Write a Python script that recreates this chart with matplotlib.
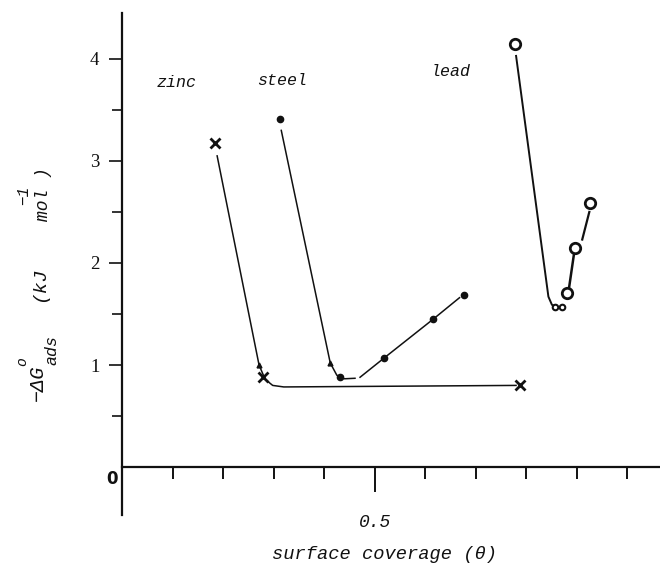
import matplotlib
matplotlib.use("Agg")
import matplotlib.pyplot as plt
from matplotlib.ticker import FixedLocator, FixedFormatter, NullFormatter

# ---------------- data ----------------
# zinc (crosses)
zinc_x = [0.184, 0.279, 0.788]
zinc_y = [3.18, 0.88, 0.80]
zinc_small_x = [0.271]
zinc_small_y = [1.00]
zinc_line_x = [0.188, 0.271, 0.283, 0.298, 0.320, 0.780]
zinc_line_y = [3.05, 1.00, 0.86, 0.80, 0.785, 0.80]

# steel (filled dots)
steel_x = [0.313, 0.432, 0.519, 0.616, 0.677]
steel_y = [3.41, 0.88, 1.07, 1.45, 1.69]
steel_small_x = [0.412]
steel_small_y = [1.02]
steel_line1_x = [0.315, 0.412, 0.425, 0.440, 0.461]
steel_line1_y = [3.30, 1.02, 0.90, 0.865, 0.87]
steel_line2_x = [0.471, 0.519, 0.616, 0.668]
steel_line2_y = [0.88, 1.07, 1.45, 1.66]

# lead (open circles)
lead_x = [0.778, 0.881, 0.897, 0.927]
lead_y = [4.15, 1.71, 2.15, 2.59]
lead_small_x = [0.857, 0.871]
lead_small_y = [1.57, 1.57]
lead_line1_x = [0.780, 0.844, 0.851, 0.860]
lead_line1_y = [4.03, 1.67, 1.59, 1.57]
lead_line2_x = [0.885, 0.895]
lead_line2_y = [1.76, 2.10]
lead_line3_x = [0.911, 0.925]
lead_line3_y = [2.23, 2.50]

series_labels = ["zinc", "steel", "lead"]
label_x = [0.107, 0.317, 0.650]
label_y = [3.77, 3.79, 3.88]

y_major = [1, 2, 3, 4]
y_major_labels = ["1", "2", "3", "4"]
y_minor = [0.5, 1.5, 2.5, 3.5]
x_major = [0.5]
x_major_labels = ["0.5"]
x_minor = [0.1, 0.2, 0.3, 0.4, 0.6, 0.7, 0.8, 0.9, 1.0]

xlabel = "surface coverage (\u03b8)"

# ---------------- figure ----------------
W, H = 660, 577
fig = plt.figure(figsize=(W / 100, H / 100), dpi=100)
ax = fig.add_axes([0, 0, 1, 1])
ax.set_xlim(-0.242, 1.065)
ax.set_ylim(-1.078, 4.578)
ax.set_facecolor("white")

mono = ["Liberation Mono", "DejaVu Sans Mono"]
ink = "#111111"

# axes spines through origin
for s in ["top", "right"]:
    ax.spines[s].set_visible(False)
ax.spines["left"].set_position(("data", 0))
ax.spines["bottom"].set_position(("data", 0))
ax.spines["left"].set_bounds(-0.47, 4.45)
ax.spines["bottom"].set_bounds(0, 1.065)
ax.spines["left"].set_linewidth(1.6)
ax.spines["bottom"].set_linewidth(1.6)
ax.spines["left"].set_color(ink)
ax.spines["bottom"].set_color(ink)

ax.yaxis.set_major_locator(FixedLocator(y_major))
ax.yaxis.set_major_formatter(FixedFormatter(y_major_labels))
ax.yaxis.set_minor_locator(FixedLocator(y_minor))
ax.yaxis.set_minor_formatter(NullFormatter())
ax.xaxis.set_major_locator(FixedLocator(x_major))
ax.xaxis.set_major_formatter(FixedFormatter(x_major_labels))
ax.xaxis.set_minor_locator(FixedLocator(x_minor))
ax.xaxis.set_minor_formatter(NullFormatter())

ax.tick_params(axis="y", which="major", direction="out", length=9.5, width=1.2,
               pad=7, labelsize=13.5, color=ink, labelcolor=ink)
ax.tick_params(axis="y", which="minor", direction="out", length=7.5, width=1.2, color=ink)
ax.tick_params(axis="x", which="major", direction="out", length=18, width=1.4,
               pad=16, labelsize=13, color=ink, labelcolor=ink)
ax.tick_params(axis="x", which="minor", direction="out", length=8.5, width=1.4, color=ink)
for lab in ax.get_yticklabels():
    lab.set_family(["Liberation Serif", "DejaVu Serif"])
for lab in ax.get_xticklabels():
    lab.set_family(mono)
    lab.set_style("italic")

# origin label
ax.text(-0.02, -0.12, "0", ha="center", va="center", fontsize=12,
        fontweight="bold", family=["DejaVu Sans"], color=ink)

# ---------------- series ----------------
lw = 1.1
ax.plot(zinc_line_x, zinc_line_y, color=ink, lw=lw)
ax.plot(zinc_x, zinc_y, ls="none", marker="x", ms=6.5, mew=2.0, color=ink)
ax.plot(zinc_small_x, zinc_small_y, ls="none", marker="^", ms=3.5, color=ink)

ax.plot(steel_line1_x, steel_line1_y, color=ink, lw=lw)
ax.plot(steel_line2_x, steel_line2_y, color=ink, lw=lw)
ax.plot(steel_x, steel_y, ls="none", marker="o", ms=4.5, color=ink)
ax.plot(steel_small_x, steel_small_y, ls="none", marker="^", ms=3.5, color=ink)

ax.plot(lead_line1_x, lead_line1_y, color=ink, lw=1.4)
ax.plot(lead_line2_x, lead_line2_y, color=ink, lw=1.8)
ax.plot(lead_line3_x, lead_line3_y, color=ink, lw=1.6)
ax.plot(lead_x, lead_y, ls="none", marker="o", ms=7.5, mew=2.0,
        mfc="white", mec=ink)
ax.plot(lead_small_x, lead_small_y, ls="none", marker="o", ms=4, mew=1.5,
        mfc="white", mec=ink)

for t, x, y in zip(series_labels, label_x, label_y):
    ax.text(x, y, t, ha="center", va="center", fontsize=12, style="italic",
            family=mono, color=ink)

# x axis title
ax.text(0.52, -0.86, xlabel, ha="center", va="center", fontsize=13.5,
        style="italic", family=mono, color=ink)

# ---------------- y axis title (pieces placed as in the original) ----------------
def ftext(px, py, s, size, **kw):
    fig.text(px / W, 1 - py / H, s, rotation=90, ha="center", va="center",
             rotation_mode="anchor", fontsize=size, family=mono,
             style="italic", color=ink, **kw)

ftext(37, 383, "\u2212\u0394G", 14.5)
ftext(22, 362, "o", 10.5)
ftext(52, 350, "ads", 12)
ftext(40, 284, "(kJ", 14)
ftext(43, 194, "mol )", 13)
ftext(24, 195, "\u22121", 11.5)

fig.savefig("out.png", dpi=100, facecolor="white")
